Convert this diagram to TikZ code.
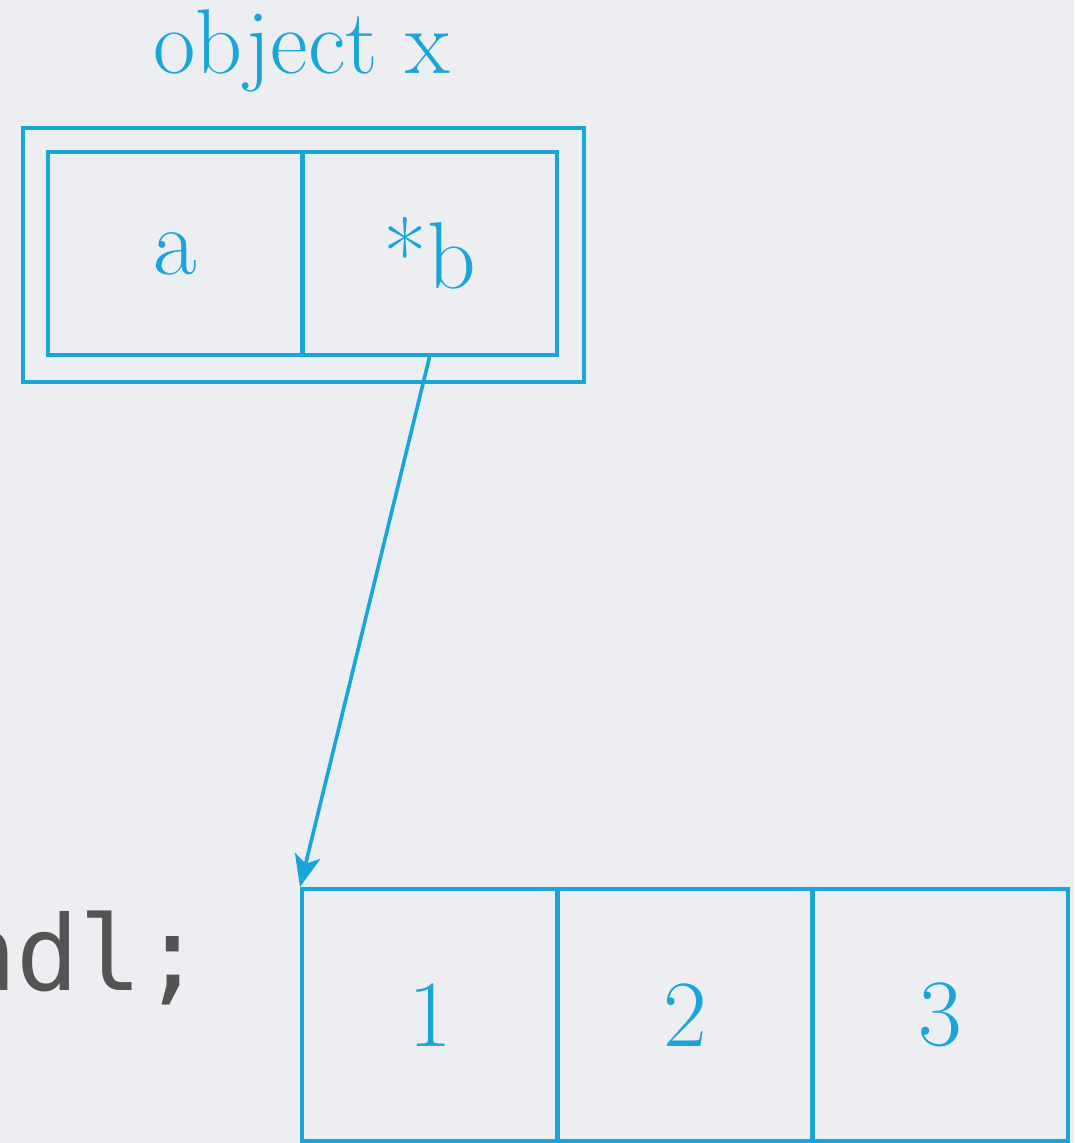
\documentclass[tikz,border=0pt]{standalone}
\usepackage{fontspec}
\newfontfamily\codefont{DejaVu Sans Mono}
\usetikzlibrary{arrows.meta}
\definecolor{bg}{HTML}{EDEEF1}
\definecolor{ptrblue}{HTML}{19A5DA}
\definecolor{codegray}{HTML}{545454}
\begin{document}
\begin{tikzpicture}[x=0.5pt,y=-0.5pt,
  cell/.style={draw=ptrblue, line width=2pt, inner sep=0pt, text=ptrblue,
    font=\fontsize{47.5}{52}\selectfont},
  topcell/.style={cell, minimum width=127.5pt, minimum height=101.5pt},
  arrcell/.style={cell, minimum width=128pt, minimum height=126pt},
  frame/.style={draw=ptrblue, line width=2pt, inner sep=0pt},
  ptr/.style={draw=ptrblue, line width=1.8pt, -{Stealth[length=16pt,width=13pt,inset=4pt]}}]
  % page and background
  \useasboundingbox (0,0) rectangle (1074,1143);
  \fill[bg] (0,0) rectangle (1074,1143);
  \clip (0,0) rectangle (1074,1143);

  % object x with its two members
  \node[frame, minimum width=280.5pt, minimum height=127pt] (obj) at (303.5,255) {};
  \node[anchor=base, text=ptrblue, inner sep=0pt, font=\fontsize{46}{50}\selectfont]
    (title) at (302,74) {object x};
  \node[topcell] (ma) at (175,253.5) {a};
  \node[topcell] (mb) at (429.5,253.5) {*b};

  % array the pointer refers to
  \node[arrcell] (c1) at (430,1015) {1};
  \node[arrcell] (c2) at (685,1015) {2};
  \node[arrcell] (c3) at (940,1015) {3};

  % pointer
  \draw[ptr] (mb.south) -- (c1.north west);

  % trailing code fragment
  \node[anchor=base east, inner sep=0pt, text=codegray,
    font=\codefont\fontsize{52}{60}\selectfont] (code) at (205,990) {ndl;};
\end{tikzpicture}
\end{document}
